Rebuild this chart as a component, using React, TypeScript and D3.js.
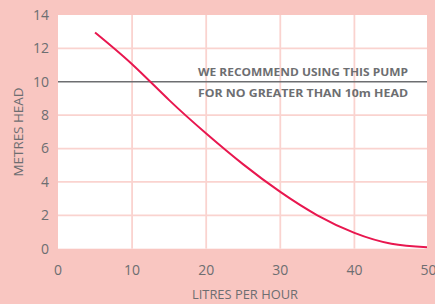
import React from "react";
import * as d3 from "d3";

const flowLph = [5, 10, 15, 20, 25, 30, 35, 40, 45, 50];
const headM = [12.95, 11.05, 8.9, 6.9, 5.05, 3.4, 2.0, 0.95, 0.3, 0.08];
const xTicks = [0, 10, 20, 30, 40, 50];
const yTicks = [0, 2, 4, 6, 8, 10, 12, 14];
const limitHead = 10;
const noteLines = ["WE RECOMMEND USING THIS PUMP", "FOR NO GREATER THAN 10m HEAD"];

const W = 435;
const H = 304;
const L = 58, R = 428.5, T = 15, B = 248.7;

export default function App() {
  const x = d3.scaleLinear().domain([0, 50]).range([L, R]);
  const y = d3.scaleLinear().domain([0, 14]).range([B, T]);
  const pts = flowLph.map((f, i) => [f, headM[i]] as [number, number]);
  const line = d3
    .line<[number, number]>()
    .x((d) => x(d[0]))
    .y((d) => y(d[1]))
    .curve(d3.curveNatural);
  const grey = "#6d6e71";
  const grid = "#fad3cf";
  const font = "'Open Sans', 'Noto Sans', sans-serif";
  return (
    <svg
      width={W}
      height={H}
      style={{ position: "absolute", left: 0, top: 0, display: "block" }}
      fontFamily={font}
    >
      <rect x={0} y={0} width={W} height={H} fill="#f9c6c1" />
      <rect x={L} y={T} width={427 - L} height={B - T} fill="#ffffff" />
      {xTicks.slice(1, -1).map((t) => (
        <line key={"gx" + t} x1={x(t)} x2={x(t)} y1={T} y2={B} stroke={grid} strokeWidth={1.8} />
      ))}
      {yTicks.slice(1, -1).filter((t) => t !== limitHead).map((t) => (
        <line key={"gy" + t} x1={L} x2={427} y1={y(t)} y2={y(t)} stroke={grid} strokeWidth={1.8} />
      ))}
      <line x1={L} x2={427} y1={y(limitHead)} y2={y(limitHead)} stroke={grey} strokeWidth={1.4} />
      <text x={408} y={75.5} textAnchor="end" fontSize={11} fontWeight="bold" fill={grey} textLength={210} lengthAdjust="spacingAndGlyphs">
        {noteLines[0]}
      </text>
      <text x={408} y={96.5} textAnchor="end" fontSize={11} fontWeight="bold" fill={grey} textLength={210} lengthAdjust="spacingAndGlyphs">
        {noteLines[1]}
      </text>
      <defs>
        <clipPath id="plotclip">
          <rect x={L} y={T} width={427 - L} height={B - T + 3} />
        </clipPath>
      </defs>
      <path d={line(pts) || ""} fill="none" stroke="#e8174f" strokeWidth={2} clipPath="url(#plotclip)" />
      {yTicks.map((t) => (
        <text key={"ty" + t} x={49} y={y(t)} dy="0.35em" textAnchor="end" fontSize={14} fill={grey}>
          {t}
        </text>
      ))}
      {xTicks.map((t) => (
        <text key={"tx" + t} x={x(t)} y={270} dy="0.35em" textAnchor="middle" fontSize={14} fill={grey}>
          {t}
        </text>
      ))}
      <text x={245} y={295} dy="0.35em" textAnchor="middle" fontSize={12} fill={grey} textLength={106} lengthAdjust="spacingAndGlyphs">
        LITRES PER HOUR
      </text>
      <text
        transform={`translate(19,132) rotate(-90)`}
        dy="0.35em"
        textAnchor="middle"
        fontSize={12}
        fill={grey}
        textLength={89}
        lengthAdjust="spacingAndGlyphs"
      >
        METRES HEAD
      </text>
    </svg>
  );
}
